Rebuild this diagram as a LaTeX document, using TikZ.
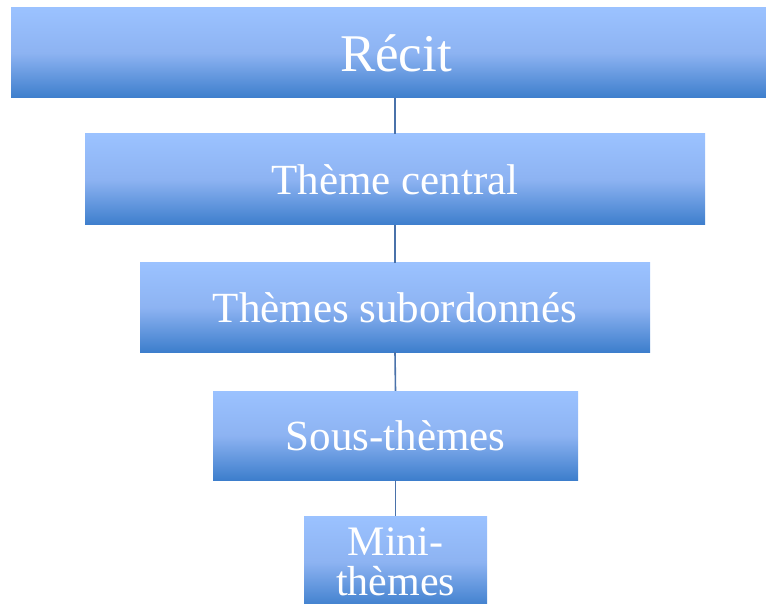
\documentclass[tikz,border=0pt]{standalone}
\usepackage{fontspec}
\setmainfont{Liberation Serif}
\definecolor{boxtop}{HTML}{9BC2FF}
\definecolor{boxmid}{HTML}{8DB3F2}
\definecolor{boxbot}{HTML}{3D7ECC}
\definecolor{linkc}{HTML}{4A72AA}
\begin{document}
\begin{tikzpicture}[x=1pt,y=-1pt,
  level/.style={draw=none,inner sep=0pt,
    top color=boxtop,bottom color=boxbot,middle color=boxmid,
    text=white,align=center},
  link/.style={draw=linkc,line width=1.6pt}]
\useasboundingbox (0,0) rectangle (766,604);
\clip (0,0) rectangle (766,604);
% stacked levels, widest on top
\node[level,minimum width=755pt,minimum height=90pt,font=\fontsize{53}{56}\selectfont] (recit) at (388.5,53) {\hspace*{15pt}Récit};
\node[level,minimum width=620pt,minimum height=91pt,font=\fontsize{43}{46}\selectfont] (central) at (395,179.5) {Thème central};
\node[level,minimum width=510pt,minimum height=89pt,font=\fontsize{43}{46}\selectfont] (subord) at (395,307.5) {Thèmes subordonnés};
\node[level,minimum width=365pt,minimum height=89pt,font=\fontsize{43}{46}\selectfont] (sous) at (395.5,435.5) {Sous-thèmes};
\node[level,minimum width=183pt,minimum height=92pt,font=\fontsize{42}{40}\selectfont] (mini) at (395.5,562) {Mini-\\thèmes};
% vertical connectors
\draw[link] (central.north |- recit.south) -- (central.north);
\draw[link] (central.south) -- (subord.north);
\draw[link] (subord.south) -- (sous.north);
\draw[link] (sous.south) -- (mini.north);
\end{tikzpicture}
\end{document}
